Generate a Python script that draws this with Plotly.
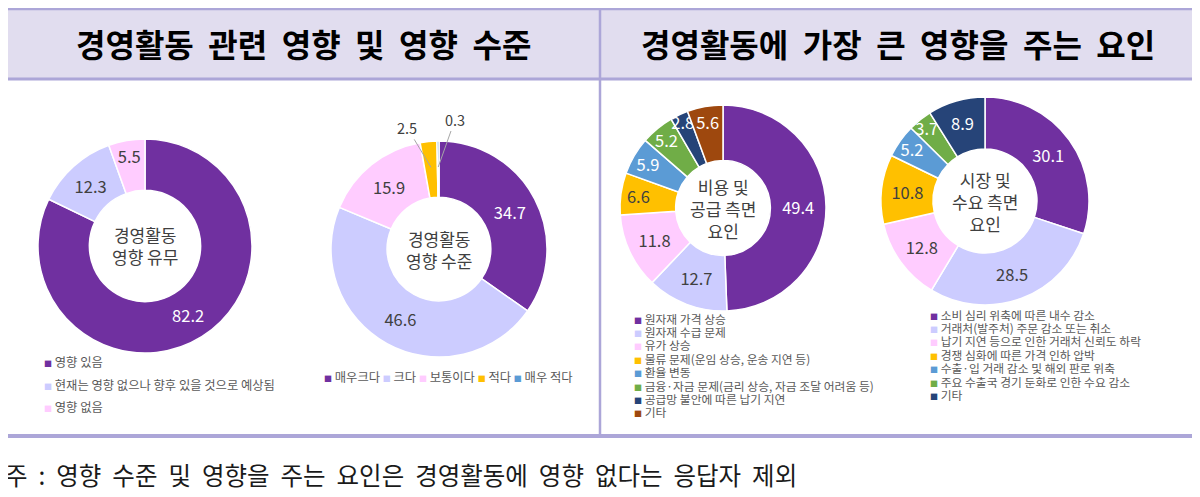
import math
import plotly.graph_objects as go

# page has an 8px body margin, so the figure is drawn a bit smaller and shifted
OFF = 8
W, H = 1200 - OFF, 497 - OFF

# 경영활동 영향 유무
impact_labels = ["영향 있음", "현재는 영향 없으나 향후 있을 것으로 예상됨", "영향 없음"]
impact_values = [82.2, 12.3, 5.5]

# 경영활동 영향 수준
level_labels = ["매우크다", "크다", "보통이다", "적다", "매우 적다"]
level_values = [34.7, 46.6, 15.9, 2.5, 0.3]

# 비용 및 공급 측면 요인
cost_labels = ["원자재 가격 상승", "원자재 수급 문제", "유가 상승", "물류 문제(운임 상승, 운송 지연 등)",
               "환율 변동", "금융·자금 문제(금리 상승, 자금 조달 어려움 등)", "공급망 불안에 따른 납기 지연", "기타"]
cost_values = [49.4, 12.7, 11.8, 6.6, 5.9, 5.2, 2.8, 5.6]

# 시장 및 수요 측면 요인
market_labels = ["소비 심리 위축에 따른 내수 감소", "거래처(발주처) 주문 감소 또는 취소",
                 "납기 지연 등으로 인한 거래처 신뢰도 하락", "경쟁 심화에 따른 가격 인하 압박",
                 "수출·입 거래 감소 및 해외 판로 위축", "주요 수출국 경기 둔화로 인한 수요 감소", "기타"]
market_values = [30.1, 28.5, 12.8, 10.8, 5.2, 3.7, 8.9]

left_title = "경영활동 관련 영향 및 영향 수준"
right_title = "경영활동에 가장 큰 영향을 주는 요인"
footnote = "주 : 영향 수준 및 영향을 주는 요인은 경영활동에 영향 없다는 응답자 제외"

palette = ["#7030a0", "#ccccff", "#ffccff", "#ffc000", "#5b9bd5", "#70ad47", "#264478", "#9e480e"]
market_colors = palette[:6] + ["#264478"]
DARK = "#404040"
FONT = "Noto Sans CJK KR"
BORDER = "#aca6d8"


def fx(x):
    return (x - OFF) / W


def fy(y):
    return 1 - (y - OFF) / H


def dom(cx, cy, r):
    return dict(x=[fx(cx - r), fx(cx + r)], y=[fy(cy + r), fy(cy - r)])


def wide(s, n=2):
    return s.replace(" ", "\u00a0" * n)


def text_colors(n, light):
    return ["white" if i in light else DARK for i in range(n)]


def donut(labels, values, colors, domain, hole, light, positions="inside"):
    return go.Pie(
        labels=labels, values=values, sort=False, direction="clockwise", rotation=0,
        hole=hole, domain=domain, showlegend=False, hoverinfo="label+value",
        marker=dict(colors=colors, line=dict(color="white", width=1.5)),
        texttemplate="%{value:.1f}", textposition=positions,
        insidetextorientation="horizontal",
        textfont=dict(family=FONT, size=16.5, color=text_colors(len(values), light)),
    )


L2 = (439, 249, 108)

fig = go.Figure()
fig.add_trace(donut(impact_labels, impact_values, palette[:3], dom(145, 246, 107), 0.52, {0}))
fig.add_trace(donut(level_labels, level_values, palette[:5], dom(*L2), 0.48, {0},
                    ["inside", "inside", "inside", "none", "none"]))
fig.add_trace(donut(cost_labels, cost_values, palette, dom(723, 208, 103), 0.46, {0, 4, 5, 6, 7}))
fig.add_trace(donut(market_labels, market_values, market_colors, dom(985, 201, 104), 0.5, {0, 4, 5, 6}))

ann = []


def px_ann(x, y, text, size, color=DARK, xanchor="center", bold=False):
    ann.append(dict(x=fx(x), y=fy(y), xref="paper", yref="paper", text=text, showarrow=False,
                    xanchor=xanchor, yanchor="middle", align="center",
                    font=dict(family=FONT, size=size, color=color,
                              weight="bold" if bold else "normal")))


# headers
px_ann(303, 43, wide(left_title), 32, "black", bold=True)
px_ann(898, 43, wide(right_title), 32, "black", bold=True)

# centre texts
px_ann(145, 246, "경영활동<br>영향 유무", 17)
px_ann(439, 249, "경영활동<br>영향 수준", 17)
px_ann(723, 208, "비용 및<br>공급 측면<br>요인", 17)
px_ann(985, 201, "시장 및<br>수요 측면<br>요인", 17)

# leader-line labels for the two thin slices of the level donut
total = sum(level_values)
label_offsets = {3: (-24, -40), 4: (17, -48)}
for idx, (ax, ay) in label_offsets.items():
    mid = (sum(level_values[:idx]) + level_values[idx] / 2) / total * 2 * math.pi
    tx = L2[0] + 82 * math.sin(mid)
    ty = L2[1] - 82 * math.cos(mid)
    ann.append(dict(x=fx(tx), y=fy(ty), xref="paper", yref="paper", ax=ax, ay=ay,
                    text=f"{level_values[idx]:.1f}", showarrow=True, arrowhead=0,
                    arrowwidth=1, arrowcolor="#a6a6a6", standoff=0,
                    font=dict(family=FONT, size=14.5, color=DARK)))


def item(color, label):
    return f'<span style="color:{color};font-size:8px">■</span> {label}'


for i, lab in enumerate(impact_labels):
    px_ann(42, 362 + i * 22.5, item(palette[i], lab), 12.3, "#595959", "left")
px_ann(322, 377, " ".join(item(palette[i], lab) for i, lab in enumerate(level_labels)),
       12.3, "#595959", "left")
for i, lab in enumerate(cost_labels):
    px_ann(632, 318 + i * 13.4, item(palette[i], lab), 11.8, "#595959", "left")
for i, lab in enumerate(market_labels):
    px_ann(928, 314 + i * 13.4, item(market_colors[i], lab), 11.8, "#595959", "left")

# footnote
px_ann(3, 474, wide(footnote), 24.5, "#1a1a1a", "left")


def px_line(x0, y0, x1, y1, width):
    return dict(type="line", xref="paper", yref="paper", x0=fx(x0), x1=fx(x1),
                y0=fy(y0), y1=fy(y1), line=dict(color=BORDER, width=width))


shapes = [
    dict(type="rect", xref="paper", yref="paper", x0=fx(8), x1=fx(1200), y0=fy(79), y1=fy(8.5),
         fillcolor="#e1ddef", line=dict(width=0), layer="below"),
    px_line(8, 9, 1200, 9, 2.5),
    px_line(8, 79, 1200, 79, 3),
    px_line(600, 8, 600, 436, 2.5),
    px_line(8, 436, 1197, 436, 4),
]

fig.update_layout(
    width=W, height=H, margin=dict(l=0, r=0, t=0, b=0),
    paper_bgcolor="white", plot_bgcolor="white",
    uniformtext=dict(minsize=16, mode="show"),
    annotations=ann, shapes=shapes,
    font=dict(family=FONT),
)

fig.write_html("out.html")
